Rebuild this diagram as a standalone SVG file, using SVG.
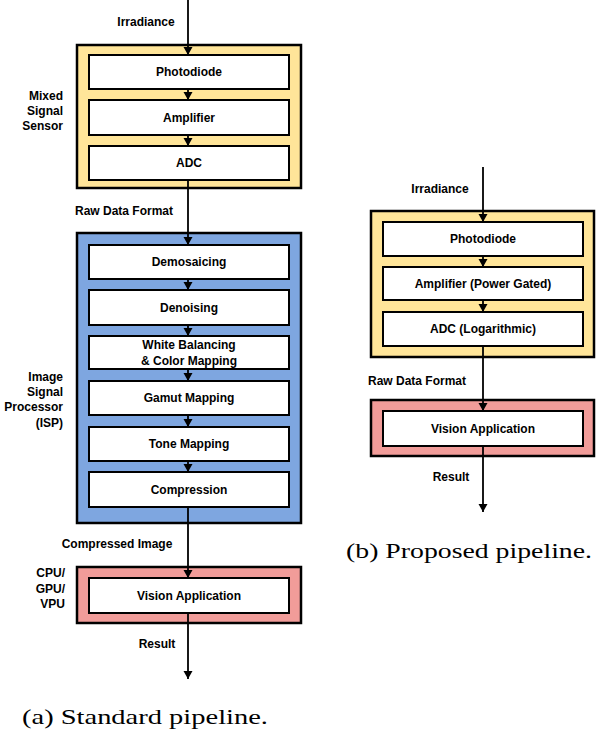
<svg xmlns="http://www.w3.org/2000/svg" width="596" height="732" viewBox="0 0 596 732">
<defs>
<marker id="ah" markerUnits="userSpaceOnUse" markerWidth="10" markerHeight="10" refX="8" refY="4.5" orient="auto">
<path d="M0,0 L8,4.5 L0,9 z" fill="#000"/>
</marker>
<style>
.t{font-family:"Liberation Sans",Arial,sans-serif;font-size:12px;font-weight:bold;fill:#000;}
.c{text-anchor:middle;}
.r{text-anchor:end;}
.cap{font-family:"Liberation Serif","Times New Roman",serif;font-size:22px;fill:#000;}
.box{fill:#fff;stroke:#000;stroke-width:2;}
.y{fill:#FFE599;stroke:#000;stroke-width:2.5;}
.b{fill:#7EA6E0;stroke:#000;stroke-width:2.5;}
.p{fill:#F19C99;stroke:#000;stroke-width:2.5;}
.e{stroke:#000;stroke-width:1.8;fill:none;marker-end:url(#ah);}
</style>
</defs>
<rect width="596" height="732" fill="#fff"/>

<g id="sensor-a">
<rect class="y" x="77" y="45" width="224" height="143"/>
<text class="t r" x="63" y="100">Mixed</text>
<text class="t r" x="63" y="115">Signal</text>
<text class="t r" x="63" y="130">Sensor</text>
</g>
<g id="photodiode-a"><rect class="box" x="89" y="55" width="200" height="34"/><text class="t c" x="189" y="76">Photodiode</text></g>
<g id="amplifier-a"><rect class="box" x="89" y="100" width="200" height="35"/><text class="t c" x="189" y="122">Amplifier</text></g>
<g id="adc-a"><rect class="box" x="89" y="146" width="200" height="34"/><text class="t c" x="189" y="167">ADC</text></g>

<g id="isp">
<rect class="b" x="77" y="233" width="224" height="290"/>
<text class="t r" x="63" y="381">Image</text>
<text class="t r" x="63" y="396">Signal</text>
<text class="t r" x="63" y="411">Processor</text>
<text class="t r" x="63" y="427">(ISP)</text>
</g>
<g id="demosaicing"><rect class="box" x="89" y="245" width="200" height="34"/><text class="t c" x="189" y="266">Demosaicing</text></g>
<g id="denoising"><rect class="box" x="89" y="290" width="200" height="35"/><text class="t c" x="189" y="312">Denoising</text></g>
<g id="whitebalance"><rect class="box" x="89" y="336" width="200" height="33"/><text class="t c" x="189" y="349">White Balancing</text><text class="t c" x="189" y="365">&amp; Color Mapping</text></g>
<g id="gamut"><rect class="box" x="89" y="381" width="200" height="34"/><text class="t c" x="189" y="402">Gamut Mapping</text></g>
<g id="tone"><rect class="box" x="89" y="427" width="200" height="34"/><text class="t c" x="189" y="448">Tone Mapping</text></g>
<g id="compression"><rect class="box" x="89" y="472" width="200" height="35"/><text class="t c" x="189" y="494">Compression</text></g>

<g id="cpu">
<rect class="p" x="77" y="567" width="224" height="56"/>
<text class="t r" x="65" y="577">CPU/</text>
<text class="t r" x="65" y="593">GPU/</text>
<text class="t r" x="65" y="608">VPU</text>
</g>
<g id="vision-a"><rect class="box" x="89" y="578" width="200" height="35"/><text class="t c" x="189" y="600">Vision Application</text></g>

<g id="sensor-b"><rect class="y" x="371" y="211" width="223" height="146"/></g>
<g id="photodiode-b"><rect class="box" x="383" y="222" width="200" height="34"/><text class="t c" x="483" y="243">Photodiode</text></g>
<g id="amplifier-b"><rect class="box" x="383" y="267" width="200" height="33"/><text class="t c" x="483" y="288">Amplifier (Power Gated)</text></g>
<g id="adc-b"><rect class="box" x="383" y="312" width="200" height="34"/><text class="t c" x="483" y="333">ADC (Logarithmic)</text></g>

<g id="app-b"><rect class="p" x="371" y="400" width="223" height="56"/></g>
<g id="vision-b"><rect class="box" x="383" y="411" width="200" height="35"/><text class="t c" x="483" y="433">Vision Application</text></g>

<g id="connectors">
<line class="e" x1="188" y1="0" x2="188" y2="55"/>
<line class="e" x1="188" y1="89" x2="188" y2="100"/>
<line class="e" x1="188" y1="135" x2="188" y2="146"/>
<line class="e" x1="188" y1="180" x2="188" y2="245"/>
<line class="e" x1="188" y1="279" x2="188" y2="290"/>
<line class="e" x1="188" y1="325" x2="188" y2="336"/>
<line class="e" x1="188" y1="369" x2="188" y2="381"/>
<line class="e" x1="188" y1="415" x2="188" y2="427"/>
<line class="e" x1="188" y1="461" x2="188" y2="472"/>
<line class="e" x1="188" y1="507" x2="188" y2="578"/>
<line class="e" x1="188" y1="613" x2="188" y2="679"/>
<line class="e" x1="483" y1="167" x2="483" y2="222"/>
<line class="e" x1="483" y1="256" x2="483" y2="267"/>
<line class="e" x1="483" y1="300" x2="483" y2="312"/>
<line class="e" x1="483" y1="346" x2="483" y2="411"/>
<line class="e" x1="483" y1="446" x2="483" y2="512"/>
</g>

<g id="labels">
<text class="t c" x="146" y="26">Irradiance</text>
<text class="t c" x="124" y="215">Raw Data Format</text>
<text class="t c" x="117" y="548">Compressed Image</text>
<text class="t c" x="157" y="648">Result</text>
<text class="t c" x="440" y="193">Irradiance</text>
<text class="t c" x="417" y="385">Raw Data Format</text>
<text class="t c" x="451" y="481">Result</text>
</g>

<text class="cap" x="22" y="724" textLength="246" lengthAdjust="spacingAndGlyphs">(a) Standard pipeline.</text>
<text class="cap" x="346" y="558" textLength="246" lengthAdjust="spacingAndGlyphs">(b) Proposed pipeline.</text>
</svg>
